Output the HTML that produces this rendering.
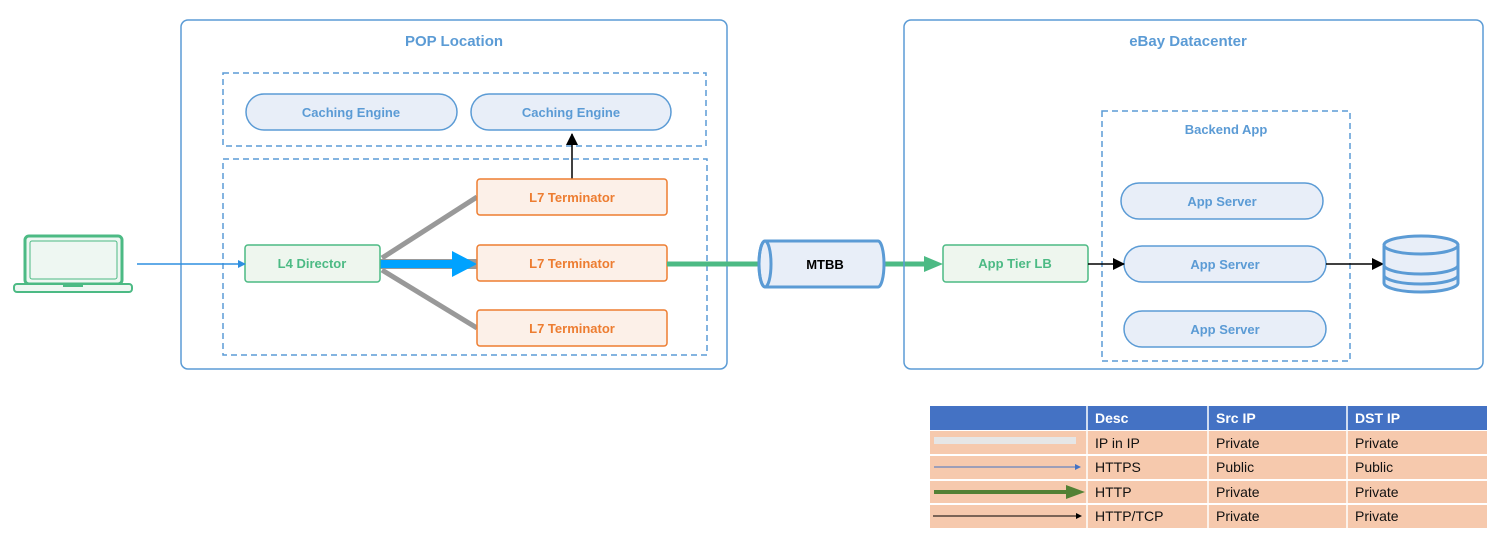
<!DOCTYPE html><html><head><meta charset="utf-8"><style>body{margin:0;background:#fff}svg{display:block}text{font-family:"Liberation Sans",sans-serif}</style></head><body>
<svg width="1505" height="544" viewBox="0 0 1505 544" xmlns="http://www.w3.org/2000/svg">
<defs>
<marker id="bl" markerWidth="8" markerHeight="8" refX="7" refY="4" orient="auto" markerUnits="userSpaceOnUse"><path d="M0,0L8,4L0,8z" fill="#2e8fe0"/></marker>
<marker id="bk" markerWidth="12" markerHeight="12" refX="11" refY="6" orient="auto" markerUnits="userSpaceOnUse"><path d="M0,0L12,6L0,12z" fill="#000"/></marker>
</defs>
<rect x="181" y="20" width="546" height="349" rx="7" fill="none" stroke="#5b9bd5" stroke-width="1.5"/>
<text x="454" y="46" text-anchor="middle" font-size="15" font-weight="bold" fill="#5b9bd5">POP Location</text>
<rect x="223" y="73" width="483" height="73" fill="none" stroke="#5b9bd5" stroke-width="1.5" stroke-dasharray="6,4"/>
<rect x="223" y="159" width="484" height="196" fill="none" stroke="#5b9bd5" stroke-width="1.5" stroke-dasharray="6,4"/>
<g font-size="13" font-weight="bold" text-anchor="middle">
<rect x="246" y="94" width="211" height="36" rx="18" fill="#e8eef8" stroke="#5b9bd5" stroke-width="1.5"/>
<text x="351" y="117" fill="#5b9bd5">Caching Engine</text>
<rect x="471" y="94" width="200" height="36" rx="18" fill="#e8eef8" stroke="#5b9bd5" stroke-width="1.5"/>
<text x="571" y="117" fill="#5b9bd5">Caching Engine</text>
<line x1="382" y1="258" x2="477" y2="197" stroke="#999" stroke-width="5"/>
<line x1="382" y1="270" x2="477" y2="328" stroke="#999" stroke-width="5"/>
<line x1="380" y1="264" x2="477" y2="264" stroke="#999" stroke-width="10"/>
<line x1="380" y1="264" x2="455" y2="264" stroke="#00a2ff" stroke-width="8"/>
<path d="M452,251L477,264L452,277z" fill="#00a2ff"/>
<line x1="572" y1="179" x2="572" y2="134" stroke="#000" stroke-width="1.5" marker-end="url(#bk)"/>
<rect x="477" y="179" width="190" height="36" rx="3" fill="#fcf0e8" stroke="#ed7d31" stroke-width="1.5"/>
<text x="572" y="202" fill="#ed7d31">L7 Terminator</text>
<rect x="477" y="245" width="190" height="36" rx="3" fill="#fcf0e8" stroke="#ed7d31" stroke-width="1.5"/>
<text x="572" y="268" fill="#ed7d31">L7 Terminator</text>
<rect x="477" y="310" width="190" height="36" rx="3" fill="#fcf0e8" stroke="#ed7d31" stroke-width="1.5"/>
<text x="572" y="333" fill="#ed7d31">L7 Terminator</text>
<rect x="245" y="245" width="135" height="37" rx="3" fill="#eef6ee" stroke="#4cba84" stroke-width="1.5"/>
<text x="312" y="268" fill="#4cba84">L4 Director</text>
</g>
<!-- laptop -->
<rect x="25" y="236" width="97" height="48" rx="4" fill="#eef7f2" stroke="#4cba84" stroke-width="3"/>
<rect x="30" y="241" width="87" height="38" rx="2" fill="none" stroke="#4cba84" stroke-width="1"/>
<rect x="14" y="284" width="118" height="8" rx="3" fill="#eef7f2" stroke="#4cba84" stroke-width="2"/>
<rect x="63" y="284" width="20" height="3" fill="#4cba84"/>
<line x1="137" y1="264" x2="245" y2="264" stroke="#2e8fe0" stroke-width="1.5" marker-end="url(#bl)"/>
<!-- MTBB -->
<line x1="667" y1="264" x2="760" y2="264" stroke="#4cba84" stroke-width="5"/>
<line x1="885" y1="264" x2="925" y2="264" stroke="#4cba84" stroke-width="5"/>
<path d="M924,256L943,264L924,272z" fill="#4cba84"/>
<path d="M765,241L878,241A6,23 0 0 1 878,287L765,287A6,23 0 0 1 765,241z" fill="#e8eef8" stroke="#5b9bd5" stroke-width="3"/>
<ellipse cx="765" cy="264" rx="6" ry="23" fill="none" stroke="#5b9bd5" stroke-width="3"/>
<text x="825" y="269" text-anchor="middle" font-size="13" font-weight="bold" fill="#000">MTBB</text>
<!-- datacenter -->
<rect x="904" y="20" width="579" height="349" rx="7" fill="none" stroke="#5b9bd5" stroke-width="1.5"/>
<text x="1188" y="46" text-anchor="middle" font-size="15" font-weight="bold" fill="#5b9bd5">eBay Datacenter</text>
<rect x="1102" y="111" width="248" height="250" fill="none" stroke="#5b9bd5" stroke-width="1.5" stroke-dasharray="6,4"/>
<text x="1226" y="134" text-anchor="middle" font-size="13" font-weight="bold" fill="#5b9bd5">Backend App</text>
<g font-size="13" font-weight="bold" text-anchor="middle">
<rect x="943" y="245" width="145" height="37" rx="3" fill="#eef6ee" stroke="#4cba84" stroke-width="1.5"/>
<text x="1015" y="268" fill="#4cba84">App Tier LB</text>
<rect x="1121" y="183" width="202" height="36" rx="18" fill="#e8eef8" stroke="#5b9bd5" stroke-width="1.5"/>
<text x="1222" y="206" fill="#5b9bd5">App Server</text>
<rect x="1124" y="246" width="202" height="36" rx="18" fill="#e8eef8" stroke="#5b9bd5" stroke-width="1.5"/>
<text x="1225" y="269" fill="#5b9bd5">App Server</text>
<rect x="1124" y="311" width="202" height="36" rx="18" fill="#e8eef8" stroke="#5b9bd5" stroke-width="1.5"/>
<text x="1225" y="334" fill="#5b9bd5">App Server</text>
</g>
<line x1="1088" y1="264" x2="1124" y2="264" stroke="#000" stroke-width="1.5" marker-end="url(#bk)"/>
<line x1="1326" y1="264" x2="1383" y2="264" stroke="#000" stroke-width="1.5" marker-end="url(#bk)"/>
<!-- DB -->
<g fill="#e8eef8" stroke="#5b9bd5" stroke-width="3">
<path d="M1384,246L1384,283A37,9 0 0 0 1458,283L1458,246"/>
<path d="M1384,265A37,9 0 0 0 1458,265" fill="none"/>
<path d="M1384,275A37,9 0 0 0 1458,275" fill="none"/>
<ellipse cx="1421" cy="245" rx="37" ry="9"/>
</g>
<!-- table -->
<rect x="930" y="406" width="557" height="24" fill="#4472c4"/>
<rect x="930" y="431" width="557" height="23" fill="#f6c9ad"/>
<rect x="930" y="456" width="557" height="23" fill="#f6c9ad"/>
<rect x="930" y="481" width="557" height="22" fill="#f6c9ad"/>
<rect x="930" y="505" width="557" height="23" fill="#f6c9ad"/>
<g stroke="#fff" stroke-width="1.5"><line x1="1087" y1="406" x2="1087" y2="528"/><line x1="1208" y1="406" x2="1208" y2="528"/><line x1="1347" y1="406" x2="1347" y2="528"/></g>
<g font-size="14" fill="#111">
<text x="1095" y="423" fill="#fff" font-weight="bold">Desc</text><text x="1216" y="423" fill="#fff" font-weight="bold">Src IP</text><text x="1355" y="423" fill="#fff" font-weight="bold">DST IP</text>
<text x="1095" y="448">IP in IP</text><text x="1216" y="448">Private</text><text x="1355" y="448">Private</text>
<text x="1095" y="472">HTTPS</text><text x="1216" y="472">Public</text><text x="1355" y="472">Public</text>
<text x="1095" y="497">HTTP</text><text x="1216" y="497">Private</text><text x="1355" y="497">Private</text>
<text x="1095" y="521">HTTP/TCP</text><text x="1216" y="521">Private</text><text x="1355" y="521">Private</text>
</g>
<rect x="934" y="437" width="142" height="7" fill="#e6e6e6"/>
<line x1="934" y1="467" x2="1076" y2="467" stroke="#4472c4" stroke-width="1"/><path d="M1075,464L1081,467L1075,470z" fill="#4472c4"/>
<line x1="934" y1="492" x2="1068" y2="492" stroke="#538135" stroke-width="4"/><path d="M1066,485L1085,492L1066,499z" fill="#538135"/>
<line x1="933" y1="516" x2="1077" y2="516" stroke="#000" stroke-width="1"/><path d="M1076,513L1082,516L1076,519z" fill="#000"/>
</svg>
</body></html>
